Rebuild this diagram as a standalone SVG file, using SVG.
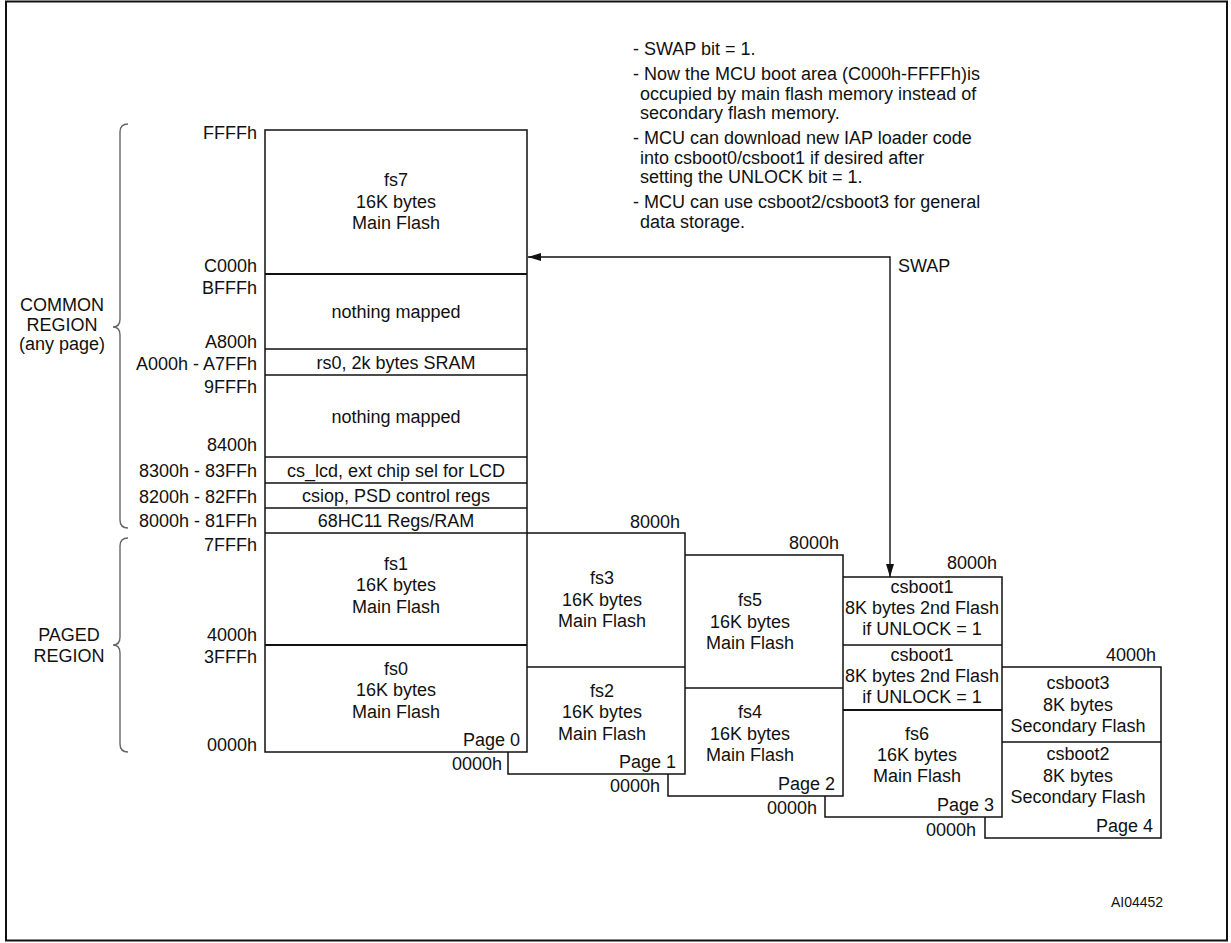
<svg xmlns="http://www.w3.org/2000/svg" width="1231" height="943" viewBox="0 0 1231 943">
<defs>
<style>
text{font-family:"Liberation Sans",Arial,Helvetica,sans-serif;font-size:18px;fill:#111}
.c{text-anchor:middle}
.e{text-anchor:end}
.box{fill:#fff;stroke:#111;stroke-width:1.5}
.ln{stroke:#111;stroke-width:1.5;fill:none}
.thk{stroke:#111;stroke-width:2.2;fill:none}
.brace{stroke:#666;stroke-width:1.4;fill:none}
.conn{stroke:#111;stroke-width:1.4;fill:none}
</style>
<marker id="ah" viewBox="0 0 13 8" refX="13" refY="4" markerWidth="13" markerHeight="8" markerUnits="userSpaceOnUse" orient="auto-start-reverse">
<path d="M0,0 L13,4 L0,8 z" fill="#111"/>
</marker>
</defs>
<rect x="6" y="1.5" width="1221" height="939" fill="#fff" stroke="#111" stroke-width="2"/>

<g id="notes">
<text x="633" y="55">- SWAP bit = 1.</text>
<text x="633" y="80">- Now the MCU boot area (C000h-FFFFh)is</text>
<text x="640" y="99.5">occupied by main flash memory instead of</text>
<text x="640" y="119">secondary flash memory.</text>
<text x="633" y="144">- MCU can download new IAP loader code</text>
<text x="640" y="163.5">into csboot0/csboot1 if desired after</text>
<text x="640" y="183">setting the UNLOCK bit = 1.</text>
<text x="633" y="208">- MCU can use csboot2/csboot3 for general</text>
<text x="640" y="227.5">data storage.</text>
</g>

<g id="common-region">
<path class="brace" d="M128,124 Q120,124 120,132 L120,319 Q120,327 113,327 Q120,327 120,335 L120,520 Q120,528 128,528"/>
<text class="c" x="62" y="311">COMMON</text>
<text class="c" x="62" y="331">REGION</text>
<text class="c" x="62" y="350">(any page)</text>
</g>

<g id="paged-region">
<path class="brace" d="M128,538 Q120,538 120,546 L120,637 Q120,645 113,645 Q120,645 120,653 L120,744 Q120,752 128,752"/>
<text class="c" x="69" y="641">PAGED</text>
<text class="c" x="69" y="662">REGION</text>
</g>

<g id="page4">
<rect class="box" x="985" y="667" width="176" height="171"/>
<line class="ln" x1="985" y1="742" x2="1161" y2="742"/>
<text class="e" x="1156" y="661">4000h</text>
<text class="c" x="1078" y="689">csboot3</text>
<text class="c" x="1078" y="710.5">8K bytes</text>
<text class="c" x="1078" y="731.5">Secondary Flash</text>
<text class="c" x="1078" y="760">csboot2</text>
<text class="c" x="1078" y="781.5">8K bytes</text>
<text class="c" x="1078" y="803">Secondary Flash</text>
<text class="e" x="1153" y="832">Page 4</text>
<text class="e" x="976" y="836">0000h</text>
</g>

<g id="page3">
<rect class="box" x="825" y="577" width="177" height="240"/>
<line class="ln" x1="825" y1="645" x2="1002" y2="645"/>
<line class="thk" x1="825" y1="710" x2="1002" y2="710"/>
<text class="e" x="997" y="569">8000h</text>
<text class="c" x="922" y="593">csboot1</text>
<text class="c" x="922" y="614">8K bytes 2nd Flash</text>
<text class="c" x="922" y="635">if UNLOCK = 1</text>
<text class="c" x="922" y="661">csboot1</text>
<text class="c" x="922" y="681.5">8K bytes 2nd Flash</text>
<text class="c" x="922" y="702.5">if UNLOCK = 1</text>
<text class="c" x="917" y="740">fs6</text>
<text class="c" x="917" y="760.5">16K bytes</text>
<text class="c" x="917" y="782">Main Flash</text>
<text class="e" x="994" y="811">Page 3</text>
<text class="e" x="817" y="814">0000h</text>
</g>

<g id="page2">
<rect class="box" x="668" y="555" width="175" height="241"/>
<line class="ln" x1="668" y1="688" x2="843" y2="688"/>
<text class="e" x="839" y="549">8000h</text>
<text class="c" x="750" y="606">fs5</text>
<text class="c" x="750" y="627.5">16K bytes</text>
<text class="c" x="750" y="649">Main Flash</text>
<text class="c" x="750" y="718">fs4</text>
<text class="c" x="750" y="739.5">16K bytes</text>
<text class="c" x="750" y="761">Main Flash</text>
<text class="e" x="835" y="790">Page 2</text>
<text class="e" x="660" y="792">0000h</text>
</g>

<g id="page1">
<rect class="box" x="508" y="533" width="177" height="241"/>
<line class="ln" x1="508" y1="667" x2="685" y2="667"/>
<text class="e" x="680" y="528">8000h</text>
<text class="c" x="602" y="584">fs3</text>
<text class="c" x="602" y="605.5">16K bytes</text>
<text class="c" x="602" y="627">Main Flash</text>
<text class="c" x="602" y="696.5">fs2</text>
<text class="c" x="602" y="718">16K bytes</text>
<text class="c" x="602" y="739.5">Main Flash</text>
<text class="e" x="676" y="768">Page 1</text>
<text class="e" x="502" y="770">0000h</text>
</g>

<g id="page0">
<rect class="box" x="265" y="130" width="262" height="622"/>
<line class="thk" x1="265" y1="274" x2="527" y2="274"/>
<line class="ln" x1="265" y1="349" x2="527" y2="349"/>
<line class="ln" x1="265" y1="375" x2="527" y2="375"/>
<line class="ln" x1="265" y1="457" x2="527" y2="457"/>
<line class="ln" x1="265" y1="483" x2="527" y2="483"/>
<line class="ln" x1="265" y1="508" x2="527" y2="508"/>
<line class="ln" x1="265" y1="533" x2="527" y2="533"/>
<line class="thk" x1="265" y1="645" x2="527" y2="645"/>
<text class="c" x="396" y="186">fs7</text>
<text class="c" x="396" y="207.5">16K bytes</text>
<text class="c" x="396" y="229">Main Flash</text>
<text class="c" x="396" y="318">nothing mapped</text>
<text class="c" x="396" y="369">rs0, 2k bytes SRAM</text>
<text class="c" x="396" y="423">nothing mapped</text>
<text class="c" x="396" y="477">cs_lcd, ext chip sel for LCD</text>
<text class="c" x="396" y="502">csiop, PSD control regs</text>
<text class="c" x="396" y="527">68HC11 Regs/RAM</text>
<text class="c" x="396" y="569.5">fs1</text>
<text class="c" x="396" y="591">16K bytes</text>
<text class="c" x="396" y="612.5">Main Flash</text>
<text class="c" x="396" y="674.5">fs0</text>
<text class="c" x="396" y="696">16K bytes</text>
<text class="c" x="396" y="717.5">Main Flash</text>
<text class="e" x="520" y="746">Page 0</text>
<text class="e" x="257" y="139">FFFFh</text>
<text class="e" x="257" y="271.5">C000h</text>
<text class="e" x="257" y="294">BFFFh</text>
<text class="e" x="257" y="348">A800h</text>
<text class="e" x="257" y="370">A000h - A7FFh</text>
<text class="e" x="257" y="393">9FFFh</text>
<text class="e" x="257" y="451">8400h</text>
<text class="e" x="257" y="477">8300h - 83FFh</text>
<text class="e" x="257" y="503">8200h - 82FFh</text>
<text class="e" x="257" y="527">8000h - 81FFh</text>
<text class="e" x="257" y="551">7FFFh</text>
<text class="e" x="257" y="641">4000h</text>
<text class="e" x="257" y="663">3FFFh</text>
<text class="e" x="257" y="751">0000h</text>
</g>

<g id="connectors">
<path class="conn" d="M528,257 H890 V577" marker-start="url(#ah)" marker-end="url(#ah)"/>
<text x="898" y="272">SWAP</text>
</g>

<text x="1111" y="907" style="font-size:14px">AI04452</text>
</svg>
